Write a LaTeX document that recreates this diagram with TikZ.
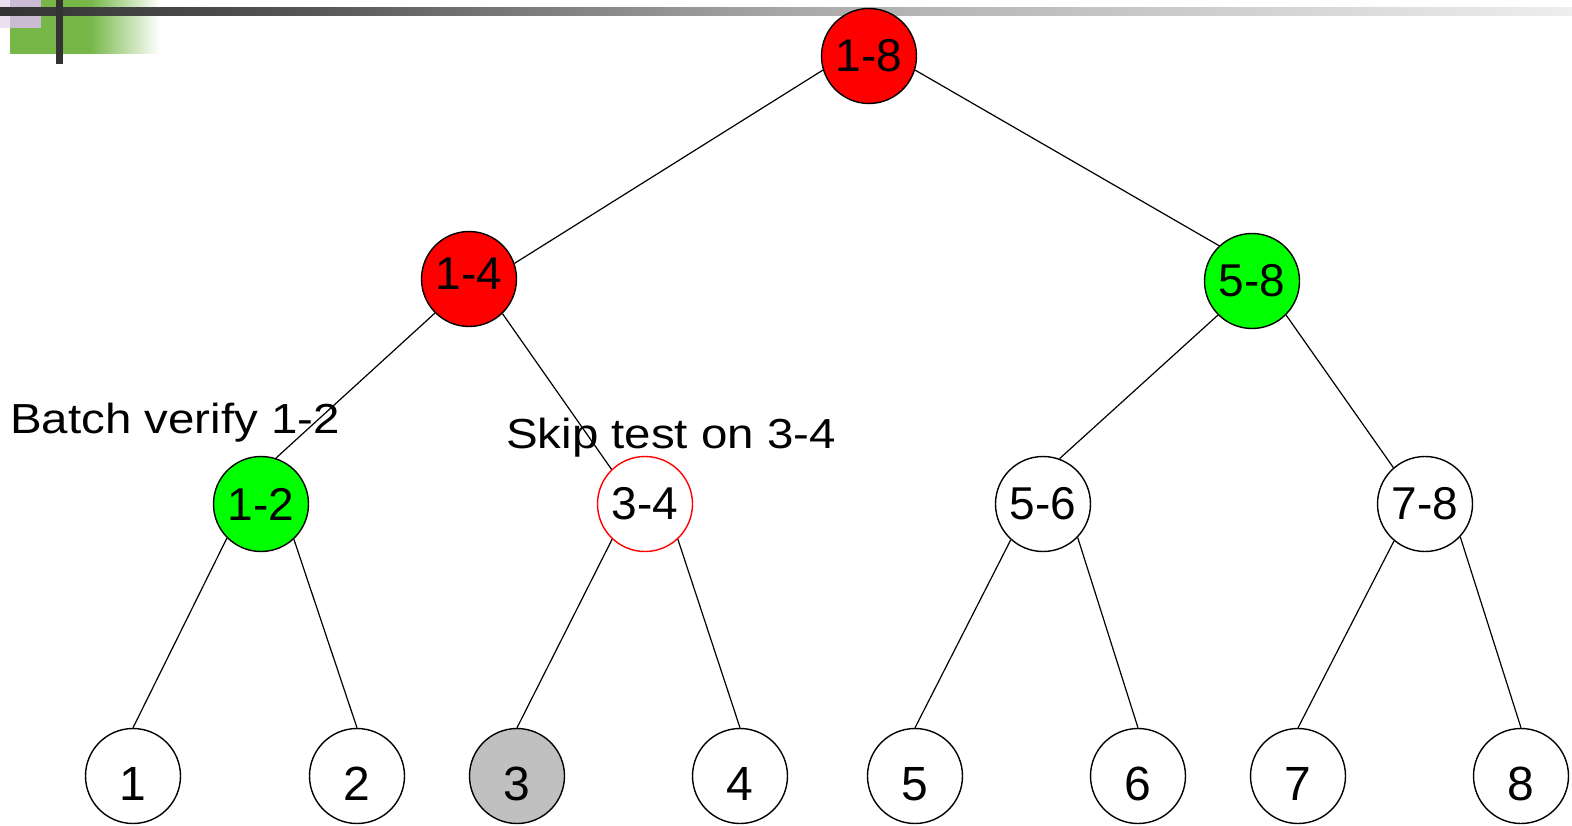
\documentclass[tikz,border=0pt]{standalone}
\usepackage{fontspec}
\setmainfont{Liberation Sans}
\definecolor{barA}{HTML}{333333}
\definecolor{barB}{HTML}{555555}
\definecolor{barC}{HTML}{AAAAAA}
\definecolor{barD}{HTML}{EEEEEE}
\definecolor{leafgreen}{HTML}{76B748}
\definecolor{lilac}{HTML}{EBE0F0}
\definecolor{lilacdark}{HTML}{CBBCD3}
\definecolor{nodegray}{HTML}{C0C0C0}
\tikzset{
  tnode/.style={circle, draw=black, line width=1.4pt, fill=white, minimum size=95pt, inner sep=0pt,
    font=\fontsize{46}{50}\selectfont},
  leaf/.style={tnode, font=\fontsize{48}{52}\selectfont},
  edge/.style={line width=1.2pt},
  note/.style={anchor=base west, inner sep=0pt, font=\fontsize{42}{46}\selectfont}
}
% shift a label vertically while keeping its reported size
\newcommand{\shiftlabel}[2]{\raisebox{#1}[\height][0pt]{#2}}
\newcommand{\wide}[1]{\scalebox{1.13}[1]{#1}}
\begin{document}
\begin{tikzpicture}[x=1pt, y=-1pt]
\useasboundingbox (0,0) rectangle (1572,826);
% corner ornament
\fill[leafgreen] (10,0) rectangle (90,54);
\shade[left color=leafgreen, right color=white] (90,0) rectangle (160,54);
\fill[lilac] (0,0) rectangle (10,28);
\fill[lilacdark] (10,0) rectangle (41,28);
\shade[left color=barA, right color=barB] (0,8) rectangle (300.5,16);
\shade[left color=barB, right color=barC] (300,8) rectangle (800.5,16);
\shade[left color=barC, right color=barD] (800,8) rectangle (1572,16);
\fill[barA] (56,0) rectangle (63,64);

% tree
\node[tnode, fill=red] (n18) at (869,56) {1-8};
\node[tnode, fill=red] (n14) at (469,279) {\shiftlabel{5pt}{1-4}};
\node[tnode, fill=green] (n58) at (1252,281) {5-8};
\node[tnode, fill=green] (n12) at (261,504) {1-2};
\node[tnode, draw=red] (n34) at (645,504) {3-4};
\node[tnode] (n56) at (1043,504) {5-6};
\node[tnode] (n78) at (1425,504) {7-8};
\node[leaf] (l1) at (133,776) {\shiftlabel{-8pt}{1}};
\node[leaf] (l2) at (357,776) {\shiftlabel{-8pt}{2}};
\node[leaf, fill=nodegray] (l3) at (517,776) {\shiftlabel{-8pt}{3}};
\node[leaf] (l4) at (740,776) {\shiftlabel{-8pt}{4}};
\node[leaf] (l5) at (915,776) {\shiftlabel{-8pt}{5}};
\node[leaf] (l6) at (1138,776) {\shiftlabel{-8pt}{6}};
\node[leaf] (l7) at (1298,776) {\shiftlabel{-8pt}{7}};
\node[leaf] (l8) at (1521,776) {\shiftlabel{-8pt}{8}};

\draw[edge] (n18.197) -- (n14.19);
\draw[edge] (n18.343) -- (n58.133);
\draw[edge] (n14.225) -- (n12.72);
\draw[edge] (n14.314) -- (n34.134);
\draw[edge] (n58.225) -- (n56.70);
\draw[edge] (n58.315) -- (n78.131);
\draw[edge] (n12.225) -- (l1.north);
\draw[edge] (n12.313) -- (l2.north);
\draw[edge] (n34.227) -- (l3.north);
\draw[edge] (n34.313) -- (l4.north);
\draw[edge] (n56.228) -- (l5.north);
\draw[edge] (n56.316) -- (l6.north);
\draw[edge] (n78.230) -- (l7.north);
\draw[edge] (n78.317) -- (l8.north);

\node[note] (batch) at (10,433) {\wide{Batch verify 1-2}};
\node[note] (skip) at (506,448) {\wide{Skip test on 3-4}};
\end{tikzpicture}
\end{document}
